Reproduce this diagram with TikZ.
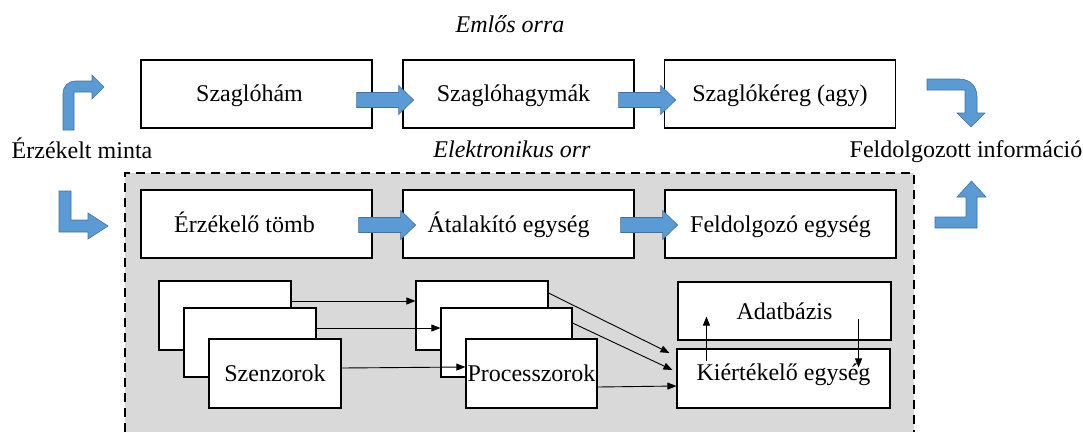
\documentclass[tikz,border=0pt]{standalone}
\usepackage{fontspec}
\setmainfont{Liberation Serif}
\usetikzlibrary{arrows.meta}
\definecolor{boxgray}{RGB}{217,217,217}
\definecolor{arrblue}{RGB}{91,155,213}
\definecolor{arrborder}{RGB}{65,113,156}
\begin{document}
\begin{tikzpicture}[x=1pt,y=-1pt,
  every node/.style={font=\fontsize{24}{28}\selectfont},
  lbl/.style={anchor=base, inner sep=0pt},
  ital/.style={anchor=base, inner sep=0pt, font=\fontsize{24}{28}\selectfont\itshape},
  bigbox/.style={draw=black, line width=1.3pt, fill=white, minimum width=231pt, minimum height=68pt, inner sep=0pt, text height=16pt, text depth=2pt},
  smallbox/.style={draw=black, line width=1.1pt, fill=white, minimum width=132pt, minimum height=69pt, inner sep=0pt, text height=16pt, text depth=0pt},
  conn/.style={line width=0.9pt, -{Triangle[length=9pt,width=7pt]}},
  blockfill/.style={fill=arrblue, draw=arrborder, line width=0.6pt},
  blockarr/.pic={\path[blockfill] (0,-7.5) -- (42,-7.5) -- (42,-14.5) -- (57,0) -- (42,14.5) -- (42,7.5) -- (0,7.5) -- cycle;}
]
\useasboundingbox (0,0) rectangle (1083,432);

% electronic nose region
\fill[boxgray] (125,173) rectangle (914,432);
\draw[line width=1.4pt, dash pattern=on 9pt off 6pt] (125,432) -- (125,173) -- (914,173) -- (914,432);

% labels
\node[ital] (emlos) at (510,32) {Emlős orra};
\node[ital] (elek) at (512,157) {Elektronikus orr};
\node[lbl] (minta) at (82,158) {Érzékelt minta};
\node[lbl] (info) at (966,157) {Feldolgozott információ};

% top row
\node[bigbox] (b1) at (256.5,94) {Szaglóhám\hspace*{14pt}};
\node[bigbox] (b2) at (518.5,94) {Szaglóhagymák\hspace*{10pt}};
\node[bigbox] (b3) at (780,94) {Szaglókéreg (agy)};
% bottom row
\node[bigbox, text depth=0pt] (e1) at (256.5,224) {Érzékelő tömb\hspace*{24pt}};
\node[bigbox, text depth=0pt] (e2) at (518.5,224) {Átalakító egység\hspace*{20pt}};
\node[bigbox, text depth=0pt] (e3) at (780.5,224) {Feldolgozó egység};

% block arrows
\pic at ([shift={(-16,6)}]b1.east) {blockarr};
\pic at ([shift={(-16,6)}]b2.east) {blockarr};
\pic at ([shift={(-14,1)}]e1.east) {blockarr};
\pic at ([shift={(-14,1)}]e2.east) {blockarr};

% bent arrows
\path[blockfill] (63,130) -- (63,94) .. controls (63,86) and (68,81) .. (76,81) -- (92,81) -- (92,75) -- (104,87)
  -- (92,99) -- (92,92) -- (74,92) -- (74,130) -- cycle;
\path[blockfill] (59,191) -- (71,191) -- (71,220) -- (88,220) -- (88,213) -- (108,226) -- (88,239) -- (88,232)
  -- (59,232) -- cycle;
\path[blockfill] (927,79) -- (959,79) .. controls (970,79) and (977,86) .. (977,97) -- (977,113) -- (985,113)
  -- (971,127) -- (957,113) -- (965,113) -- (965,90) -- (927,90) -- cycle;
\path[blockfill] (935,217) -- (966,217) -- (966,197) -- (957,197) -- (971.5,181) -- (986,197) -- (977,197)
  -- (977,228) -- (935,228) -- cycle;

% sensors
\node[smallbox] (sA) at (225,315.5) {};
\node[smallbox] (sB) at (250,342.5) {};
\node[smallbox] (sC) at (275,373.5) {Szenzorok};
% processors
\node[smallbox] (pA) at (482,315.5) {};
\node[smallbox, minimum width=131pt] (pB) at (506.5,342.5) {};
\node[smallbox, minimum width=131pt, text height=16pt, text depth=-3pt] (pC) at (531.5,373.5) {Processzorok};
% database and evaluation
\node[smallbox, minimum width=213pt, minimum height=58pt] (db) at (784.5,311) {Adatbázis};
\node[smallbox, minimum width=213pt, minimum height=59pt, text height=16pt, text depth=13pt] (kie) at (783.5,378.5) {Kiértékelő egység};

% connectors
\draw[conn] ([shift={(0,-14.5)}]sA.east) -- ([shift={(0,-14.5)}]pA.west);
\draw[conn] ([shift={(0,-14.5)}]sB.east) -- ([shift={(0,-14.5)}]pB.west);
\draw[conn] ([shift={(0,-5.5)}]sC.east) -- ([shift={(0,-6.5)}]pC.west);
\draw[conn] ([shift={(0,-22.5)}]pA.east) -- ([shift={(-7,-25.5)}]kie.west);
\draw[conn] ([shift={(0,-19.5)}]pB.east) -- ([shift={(-4,-8.5)}]kie.west);
\draw[conn] ([shift={(0,13.5)}]pC.east) -- ([shift={(0,7.5)}]kie.west);
\draw[conn] ([shift={(30,13)}]kie.north west) -- ([shift={(29,-24)}]db.south west);
\draw[conn] ([shift={(-33,-22)}]db.south east) -- ([shift={(-32,19)}]kie.north east);
\end{tikzpicture}
\end{document}
